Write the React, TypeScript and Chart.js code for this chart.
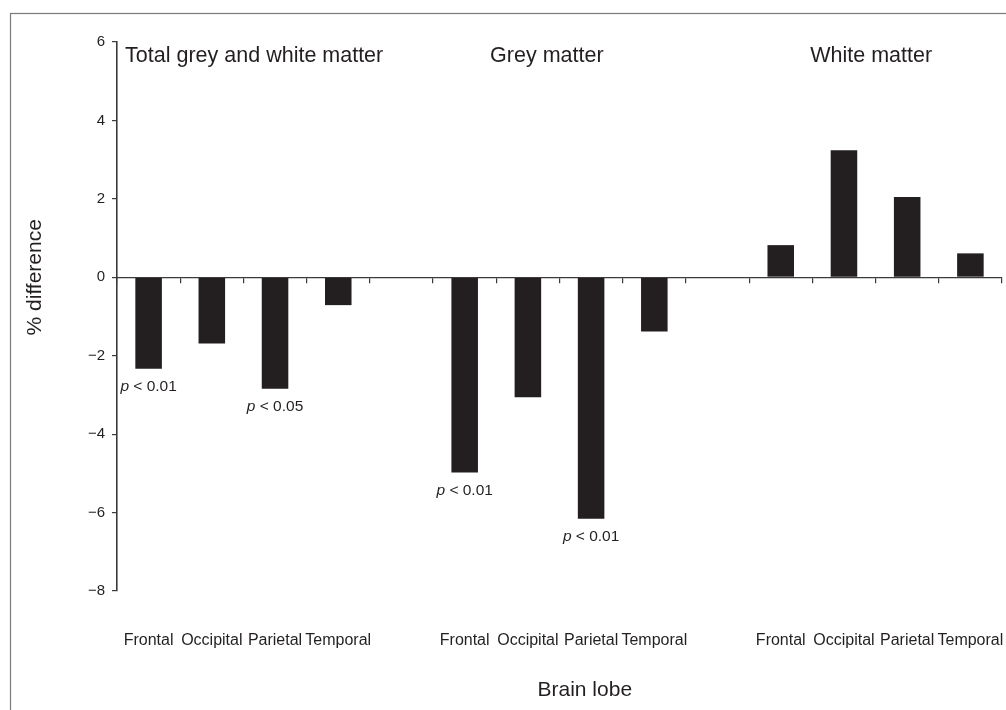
import React, { useEffect, useRef } from "react";
import { Chart, registerables } from "chart.js";

Chart.register(...registerables);

// ---- data ----
const lobes = ["Frontal", "Occipital", "Parietal", "Temporal"];
const groupTitles = ["Total grey and white matter", "Grey matter", "White matter"];
const totalValues = [-2.33, -1.69, -2.84, -0.71];
const greyValues = [-4.98, -3.06, -6.16, -1.38];
const whiteValues = [0.82, 3.24, 2.05, 0.61];
const totalP = ["< 0.01", null, "< 0.05", null];
const greyP = ["< 0.01", null, "< 0.01", null];
const whiteP = [null, null, null, null];
const yTicks = [6, 4, 2, 0, -2, -4, -6, -8];
const xTitle = "Brain lobe";
const yTitle = "% difference";

// ---- derived table (with an empty spacer category between groups) ----
const labels: string[] = [...lobes, "", ...lobes, "", ...lobes];
const values: (number | null)[] = [...totalValues, null, ...greyValues, null, ...whiteValues];
const pLabels: (string | null)[] = [...totalP, null, ...greyP, null, ...whiteP];

// ---- style / layout constants ----
const FONT = "'Liberation Sans', Arial, Helvetica, sans-serif";
const INK = "#231f20";
const AXIS = "#3a3a3a";
const TITLE_ANCHORS = [1.67, 6.3, 11.43]; // category-index positions of group titles
const X_TITLE_ANCHOR = 6.9; // category-index position of the x-axis title
const Y_TITLE_ANCHOR = 0; // value position of the y-axis title centre

const decorPlugin = {
  id: "decor",
  beforeDraw(chart: any) {
    const { ctx } = chart;
    ctx.save();
    ctx.strokeStyle = "#7a7a7a";
    ctx.lineWidth = 1.2;
    ctx.strokeRect(10.5, 13.5, chart.width + 20, chart.height + 20);
    ctx.restore();
  },
  afterDatasetsDraw(chart: any) {
    const { ctx } = chart;
    const xScale = chart.scales.x;
    const yScale = chart.scales.y;
    const meta = chart.getDatasetMeta(0);
    ctx.save();
    ctx.fillStyle = INK;
    // group titles
    ctx.font = `21.5px ${FONT}`;
    ctx.textAlign = "center";
    ctx.textBaseline = "alphabetic";
    groupTitles.forEach((t, i) => {
      ctx.fillText(t, xScale.getPixelForValue(TITLE_ANCHORS[i]), 62);
    });
    // axis titles
    ctx.font = `21px ${FONT}`;
    ctx.textBaseline = "middle";
    ctx.fillText(xTitle, xScale.getPixelForValue(X_TITLE_ANCHOR), 690);
    ctx.save();
    ctx.translate(35, yScale.getPixelForValue(Y_TITLE_ANCHOR));
    ctx.rotate(-Math.PI / 2);
    ctx.fillText(yTitle, 0, 0);
    ctx.restore();
    // p-value annotations
    ctx.textBaseline = "middle";
    pLabels.forEach((p, i) => {
      if (!p) return;
      const el = meta.data[i];
      if (!el) return;
      const y = el.y + 18;
      const pPart = "p";
      const rest = " " + p;
      ctx.font = `italic 15.5px ${FONT}`;
      const w1 = ctx.measureText(pPart).width;
      ctx.font = `15.5px ${FONT}`;
      const w2 = ctx.measureText(rest).width;
      const start = el.x - (w1 + w2) / 2;
      ctx.textAlign = "left";
      ctx.font = `italic 15.5px ${FONT}`;
      ctx.fillText(pPart, start, y);
      ctx.font = `15.5px ${FONT}`;
      ctx.fillText(rest, start + w1, y);
    });
    ctx.restore();
  },
};

export default function App() {
  const canvasRef = useRef<HTMLCanvasElement | null>(null);

  useEffect(() => {
    if (!canvasRef.current) return;
    Chart.defaults.font.family = FONT;
    Chart.defaults.color = INK;
    const chart = new Chart(canvasRef.current, {
      type: "bar",
      data: {
        labels,
        datasets: [
          {
            data: values,
            backgroundColor: INK,
            borderWidth: 0,
            categoryPercentage: 1,
            barPercentage: 0.42,
          },
        ],
      },
      options: {
        animation: false,
        responsive: true,
        maintainAspectRatio: false,
        layout: { padding: { top: 42, right: 4, bottom: 0, left: 0 } },
        plugins: {
          legend: { display: false },
          tooltip: { enabled: false },
        },
        scales: {
          x: {
            type: "category",
            position: "bottom",
            offset: true,
            grid: { display: false },
            border: { display: false },
            ticks: {
              padding: 32,
              autoSkip: false,
              maxRotation: 0,
              font: { size: 16 },
              color: INK,
            },
            title: { display: false, text: xTitle },
            afterFit(scale: any) {
              scale.height = 119;
              scale.paddingLeft = 0;
              scale.paddingRight = 0;
            },
          },
          x2: {
            type: "category",
            position: { y: 0 },
            offset: true,
            grid: {
              offset: true,
              drawOnChartArea: false,
              drawTicks: true,
              tickLength: 5,
              color: AXIS,
              lineWidth: 1.2,
            },
            border: { display: true, color: AXIS, width: 1.2 },
            ticks: { display: false },
            afterFit(scale: any) {
              scale.paddingLeft = 0;
              scale.paddingRight = 0;
            },
          } as any,
          y: {
            type: "linear",
            min: -8,
            max: 6,
            afterBuildTicks(scale: any) {
              scale.ticks = yTicks.map((v) => ({ value: v }));
            },
            grid: {
              drawOnChartArea: false,
              drawTicks: true,
              tickLength: 5,
              color: AXIS,
              lineWidth: 1.2,
            },
            border: { display: true, color: AXIS, width: 1.6 },
            ticks: {
              padding: 7,
              font: { size: 15 },
              color: INK,
              callback: (v: any) => (Number(v) < 0 ? "\u2212" + Math.abs(Number(v)) : String(v)),
            },
            title: { display: false, text: yTitle },
            afterFit(scale: any) {
              scale.width = 117;
            },
          },
        },
      },
      plugins: [decorPlugin],
    });
    return () => chart.destroy();
  }, []);

  return (
    <div style={{ position: "absolute", left: 0, top: 0, width: 1006, height: 710, background: "#fff" }}>
      <canvas ref={canvasRef} />
    </div>
  );
}
